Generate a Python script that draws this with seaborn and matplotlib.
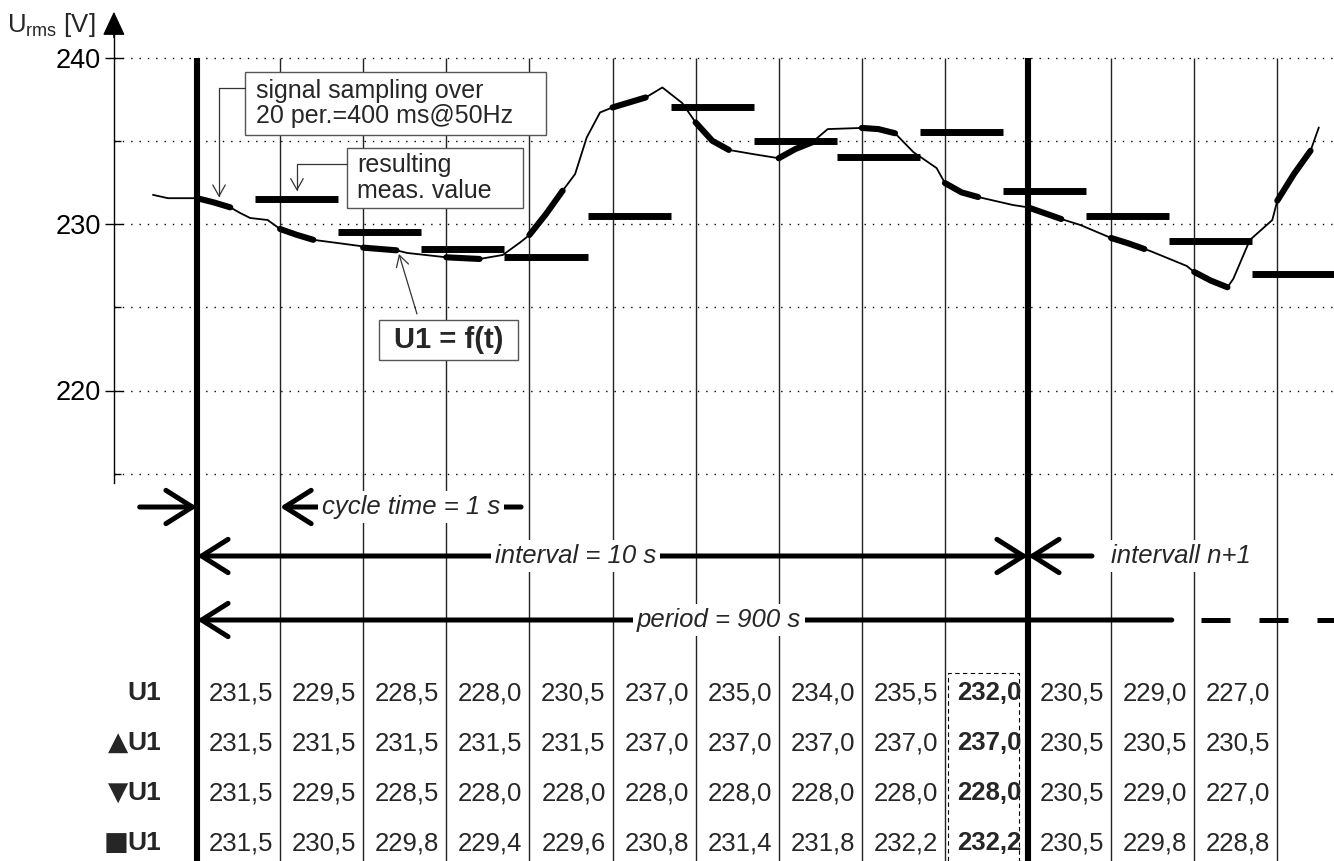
import numpy as np
import pandas as pd
import matplotlib
matplotlib.use("Agg")
import matplotlib.pyplot as plt
import matplotlib.transforms as mtransforms
from matplotlib.patches import Rectangle
import seaborn as sns

sns.set_theme(style="white")
plt.rcParams["font.family"] = ["Liberation Sans", "DejaVu Sans"]
NARROW = ["Liberation Sans Narrow", "Liberation Sans", "DejaVu Sans"]

# U1 = f(t) (t in s, U in V)
curve_t = [-0.53, -0.35, 0.0, 0.2, 0.4, 0.52, 0.64, 0.85, 1.0, 1.2, 1.4, 1.96, 2.0, 2.2, 2.4,
           2.53, 3.0, 3.2, 3.4, 3.68, 3.89, 4.0, 4.2, 4.4, 4.55, 4.69, 4.85, 5.0, 5.2, 5.4,
           5.6, 5.84, 6.0, 6.2, 6.4, 6.69, 7.0, 7.2, 7.4, 7.59, 8.0, 8.2, 8.4, 8.62, 8.9,
           9.0, 9.2, 9.4, 9.82, 10.0, 10.2, 10.4, 10.63, 11.0, 11.2, 11.4, 11.47, 11.91,
           12.0, 12.2, 12.4, 12.47, 12.67, 12.94, 13.0, 13.2, 13.4, 13.5]
curve_v = [231.75, 231.55, 231.55, 231.3, 231.0, 230.66, 230.36, 230.24, 229.7, 229.35, 229.05,
           228.68, 228.58, 228.5, 228.42, 228.26, 228.0, 227.95, 227.9, 228.14, 228.9, 229.34,
           230.6, 232.0, 233.0, 235.2, 236.7, 237.0, 237.3, 237.6, 238.2, 237.26, 236.1, 235.0,
           234.45, 234.2, 233.95, 234.5, 234.9, 235.7, 235.77, 235.7, 235.45, 234.32, 233.36,
           232.46, 231.9, 231.62, 231.14, 231.0, 230.65, 230.3, 229.94, 229.16, 228.85, 228.5,
           228.38, 227.48, 227.12, 226.6, 226.2, 226.7, 229.04, 230.24, 231.4, 233.0, 234.4, 235.8]

# one value per 1 s cycle
cycle = [0, 1, 2, 3, 4, 5, 6, 7, 8, 9, 10, 11, 12]
u1 = [231.5, 229.5, 228.5, 228.0, 230.5, 237.0, 235.0, 234.0, 235.5, 232.0, 230.5, 229.0, 227.0]
u1_max = [231.5, 231.5, 231.5, 231.5, 231.5, 237.0, 237.0, 237.0, 237.0, 237.0, 230.5, 230.5, 230.5]
u1_min = [231.5, 229.5, 228.5, 228.0, 228.0, 228.0, 228.0, 228.0, 228.0, 228.0, 230.5, 229.0, 227.0]
u1_avg = [231.5, 230.5, 229.8, 229.4, 229.6, 230.8, 231.4, 231.8, 232.2, 232.2, 230.5, 229.8, 228.8]
row_marks = ["", "▲", "▼", "■"]
row_name = "U1"
rows = [u1, u1_max, u1_min, u1_avg]
closing_cycle = 9

cycle_lines = [1, 2, 3, 4, 5, 6, 7, 8, 9, 11, 12, 13]
interval_lines = [0, 10]
y_ticks = [220, 230, 240]
y_minor = [215, 225, 235]
sample_len = 0.4
report_delay = 0.7

W, H = 1334, 861
fig = plt.figure(figsize=(W / 100, H / 100), dpi=100)
ax = fig.add_axes([0, 0, 1, 1])
x0, sx = 197, 83.1          # pixel of t=0, pixels per second
y230, sy = 224, 16.65       # pixel of 230 V, pixels per volt
ax.set_xlim(-x0 / sx, (W - x0) / sx)
ax.set_ylim(230 - (H - y230) / sy, 230 + y230 / sy)
xr = ax.get_xlim()[1]
ylo = ax.get_ylim()[0]
trans = mtransforms.blended_transform_factory(ax.transData, ax.transAxes)


def fy(px):
    return 1 - px / H


# y axis
for s in ["top", "right", "bottom"]:
    ax.spines[s].set_visible(False)
ax.spines["left"].set_position(("data", -1))
ax.spines["left"].set_bounds(214.45, 241.5)
ax.spines["left"].set_linewidth(1)
ax.spines["left"].set_color("black")
ax.set_yticks(y_ticks)
ax.set_yticks(y_minor, minor=True)
ax.set_xticks([])
ax.tick_params(axis="y", which="major", left=True, direction="inout", length=13, width=1,
               labelsize=19.5, pad=3, colors="black")
ax.tick_params(axis="y", which="minor", left=True, direction="in", length=5, width=1, colors="black")
ax.annotate("", xy=(-1, 242.75), xytext=(-1, 241.2),
            arrowprops=dict(arrowstyle="-|>,head_length=1.5,head_width=0.7", color="black",
                            lw=1, mutation_scale=10, shrinkA=0, shrinkB=0))
ax.text(-2.29, fy(32), r"U$_\mathregular{rms}$ [V]", transform=trans, fontsize=18.5,
        ha="left", va="baseline")

# grid
ax.hlines(y_minor + y_ticks, -1, xr, colors="black", lw=1, linestyles=(0, (1, 5)), zorder=1)
ax.vlines(cycle_lines, ylo, 240, colors="#222222", lw=1, zorder=1)
ax.vlines(interval_lines, ylo, 240, colors="black", lw=4.4, zorder=3)

# trace and sampling windows
sns.lineplot(x=curve_t, y=curve_v, ax=ax, color="black", lw=1.3, sort=False, estimator=None, zorder=4)
trace = pd.DataFrame({"t": curve_t, "v": curve_v})
trace["w"] = np.floor(trace["t"])
trace = trace[(trace["t"] >= 0) & (trace["t"] - trace["w"] <= sample_len + 1e-9)]
sns.lineplot(data=trace, x="t", y="v", units="w", estimator=None, ax=ax, color="black",
             lw=4.4, sort=False, zorder=4)
ax.set_xlabel("")
ax.set_ylabel("")

# resulting measured values
ax.hlines(u1, [c + report_delay for c in cycle], [c + report_delay + 1 for c in cycle],
          colors="black", lw=5, zorder=5)

# callout boxes
box_kw = dict(fc="white", ec="#555555", lw=1, zorder=6)
ax.add_patch(Rectangle((0.578, 235.35), 3.62, 3.78, **box_kw))
ax.text(0.71, 237.24, "signal sampling over\n20 per.=400 ms@50Hz", fontsize=18, ha="left",
        va="center", linespacing=1.1, zorder=7)
ax.add_patch(Rectangle((1.805, 230.96), 2.118, 3.6, **box_kw))
ax.text(1.925, 232.76, "resulting\nmeas. value", fontsize=18, ha="left", va="center",
        linespacing=1.1, zorder=7)
ax.add_patch(Rectangle((2.19, 221.83), 1.673, 2.4, **box_kw))
ax.text(3.03, 223.03, "U1 = f(t)", fontsize=21, fontweight="bold", ha="center", va="center", zorder=7)

lead = dict(arrowstyle="->,head_length=0.8,head_width=0.45", color="#333333", lw=0.9,
            mutation_scale=10, shrinkA=0, shrinkB=0)
ax.annotate("", xy=(0.265, 231.6), xytext=(0.578, 238.17),
            arrowprops=dict(lead, connectionstyle="angle,angleA=180,angleB=90,rad=0"), zorder=6)
ax.annotate("", xy=(1.203, 231.98), xytext=(1.805, 233.6),
            arrowprops=dict(lead, connectionstyle="angle,angleA=180,angleB=90,rad=0"), zorder=6)
ax.annotate("", xy=(2.43, 228.2), xytext=(2.647, 224.6), arrowprops=lead, zorder=6)

# time dimension arrows
big = dict(color="black", lw=3.6, mutation_scale=10, shrinkA=0, shrinkB=0)
head = "->,head_length=1.9,head_width=1.2"
lab = dict(fontsize=18.5, style="italic", family=NARROW, va="center", transform=trans, zorder=6,
           bbox=dict(boxstyle="square,pad=0.15", fc="white", ec="none"))

ax.annotate("", xy=(0, fy(507)), xytext=(-0.69, fy(507)), xycoords=trans, textcoords=trans,
            arrowprops=dict(big, arrowstyle=head), zorder=4)
ax.annotate("", xy=(1, fy(507)), xytext=(3.9, fy(507)), xycoords=trans, textcoords=trans,
            arrowprops=dict(big, arrowstyle=head), zorder=4)
ax.text(1.5, fy(507), "cycle time = 1 s", ha="left", **lab)

ax.annotate("", xy=(0, fy(556)), xytext=(10, fy(556)), xycoords=trans, textcoords=trans,
            arrowprops=dict(big, arrowstyle="<->,head_length=1.9,head_width=1.2"), zorder=4)
ax.text(4.56, fy(556), "interval = 10 s", ha="center", **lab)
ax.annotate("", xy=(10, fy(556)), xytext=(10.77, fy(556)), xycoords=trans, textcoords=trans,
            arrowprops=dict(big, arrowstyle=head), zorder=4)
ax.text(11.0, fy(556), "intervall n+1", ha="left", **lab)

ax.annotate("", xy=(0, fy(620)), xytext=(11.73, fy(620)), xycoords=trans, textcoords=trans,
            arrowprops=dict(big, arrowstyle=head), zorder=4)
ax.plot([11.73, xr], [fy(620), fy(620)], transform=trans, color="black", lw=3.6,
        linestyle=(5.8, (5.8, 5.8)), solid_capstyle="butt", dash_capstyle="butt", zorder=4)
ax.text(5.29, fy(620), "period = 900 s", ha="left", **lab)

# value table
row_px = [693, 743, 793, 843]
for mark, vals, py in zip(row_marks, rows, row_px):
    ax.text(-0.43, fy(py), row_name, transform=trans, ha="right", va="center", fontsize=19,
            fontweight="bold")
    ax.text(-0.83, fy(py), mark, transform=trans, ha="right", va="center", fontsize=19,
            family=["DejaVu Sans"], fontweight="bold")
    for c, v in zip(cycle, vals):
        ax.text(c + 0.53, fy(py), f"{v:.1f}".replace(".", ","), transform=trans, ha="center",
                va="center", fontsize=18.5, family=NARROW,
                fontweight="bold" if c == closing_cycle else "normal")
ax.add_patch(Rectangle((closing_cycle + 0.04, -0.01), 0.85, fy(673) + 0.01, transform=trans,
                       fill=False, ec="black", lw=0.8, ls=(0, (4, 3)), zorder=2))

fig.savefig("out.png", dpi=100)
